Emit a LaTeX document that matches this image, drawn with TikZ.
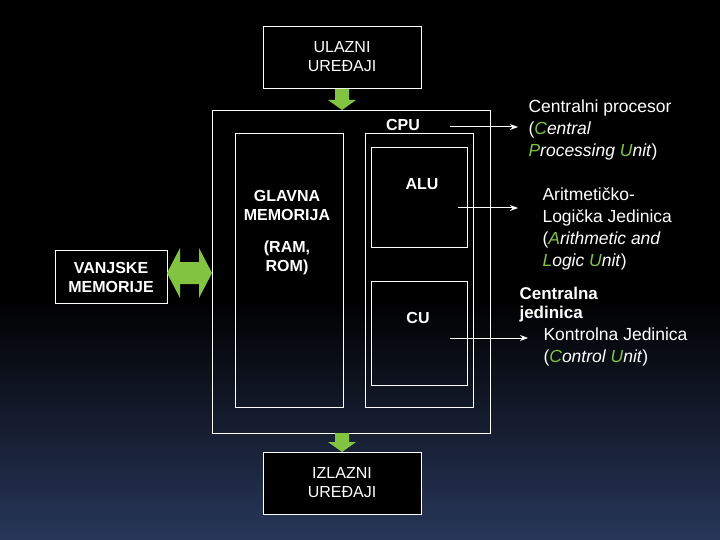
\documentclass[tikz,border=0pt]{standalone}
\usepackage{fontspec}
\setmainfont{Liberation Sans}
\usetikzlibrary{shapes.arrows,arrows.meta}
\definecolor{gr}{RGB}{130,195,65}
\definecolor{navy}{RGB}{40,55,90}
\begin{document}
\begin{tikzpicture}[x=1pt,y=-1pt,
 box/.style={draw=white,line width=0.8pt},
 lbl/.style={text=white,font=\fontsize{16}{19}\selectfont,align=center},
 desc/.style={text=white,font=\fontsize{17.5}{22}\selectfont,align=left,anchor=north west},
 ln/.style={draw=white,line width=1pt,-{Stealth[length=8pt,width=6pt]}}]
\fill[black] (0,0) rectangle (720,300);
\shade[top color=black,bottom color=navy] (0,300) rectangle (720,540);
\useasboundingbox (0,0) rectangle (720,540);
% boxes
\node[box,minimum width=158,minimum height=62,lbl,fill=black] (in) at (342,57) {ULAZNI\\UREĐAJI};
\draw[box] (212,110) rectangle (490,433);
\node[lbl,font=\bfseries\fontsize{16}{19}\selectfont] (cpu) at (403,125) {CPU};
\draw[box] (235,133) rectangle (343,407);
\node[lbl,font=\bfseries\fontsize{16}{19}\selectfont] (gm) at (287,205) {GLAVNA\\MEMORIJA};
\node[lbl,font=\bfseries\fontsize{16}{19}\selectfont] (rr) at (287,258) {(RAM,\\ROM)};
\draw[box] (365,133) rectangle (473,407);
\draw[box] (371,147) rectangle (467,247);
\node[lbl,font=\bfseries\fontsize{16}{19}\selectfont] (alu) at (422,184) {ALU};
\draw[box] (371,281) rectangle (467,385);
\node[lbl,font=\bfseries\fontsize{16}{19}\selectfont] (cu) at (418,318) {CU};
\node[box,minimum width=112,minimum height=53,lbl,font=\bfseries\fontsize{16}{19}\selectfont] (vm) at (111,277) {VANJSKE\\MEMORIJE};
\node[box,minimum width=158,minimum height=62,lbl,fill=black] (out) at (342,483) {IZLAZNI\\UREĐAJI};
% green arrows
\fill[gr] (335,89) -- (349,89) -- (349,100) -- (356,100) -- (342,110) -- (328,100) -- (335,100) -- cycle;
\fill[gr] (335,433) -- (349,433) -- (349,442) -- (356,442) -- (342,452) -- (328,442) -- (335,442) -- cycle;
\fill[gr] (167,273) -- (180,248) -- (180,262) -- (199,262) -- (199,248) -- (212,273) -- (199,298) -- (199,284) -- (180,284) -- (180,298) -- cycle;
% descriptions
\coordinate (a1) at (450,127);
\coordinate (a2) at (518,127);
\draw[ln] (a1) -- (a2);
\coordinate (b1) at (458,208);
\coordinate (b2) at (518,208);
\draw[ln] (b1) -- (b2);
\coordinate (c1) at (450,338);
\coordinate (c2) at (528,338);
\draw[ln] (c1) -- (c2);
\node[desc] (d1) at (525,96) {Centralni procesor\\(\textit{\textcolor{gr}{C}entral}\\\textit{\textcolor{gr}{P}rocessing \textcolor{gr}{U}nit})};
\node[desc] (d2) at (539,184) {Aritmetičko-\\Logička Jedinica\\(\textit{\textcolor{gr}{A}rithmetic and}\\\textit{\textcolor{gr}{L}ogic \textcolor{gr}{U}nit})};
\node[desc,font=\bfseries\fontsize{17}{19}\selectfont] (d3) at (516,284) {Centralna\\jedinica};
\node[desc] (d4) at (540,324) {Kontrolna Jedinica\\(\textit{\textcolor{gr}{C}ontrol \textcolor{gr}{U}nit})};
\end{tikzpicture}
\end{document}
